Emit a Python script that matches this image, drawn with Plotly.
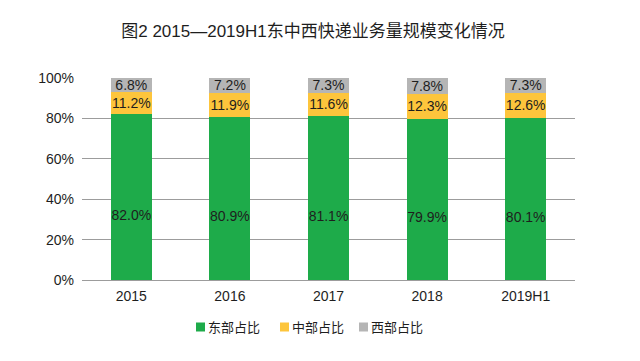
import plotly.graph_objects as go

categories = ["2015", "2016", "2017", "2018", "2019H1"]
east = [82.0, 80.9, 81.1, 79.9, 80.1]
central = [11.2, 11.9, 11.6, 12.3, 12.6]
west = [6.8, 7.2, 7.3, 7.8, 7.3]
series_names = ["东部占比", "中部占比", "西部占比"]
tick_vals = [0, 20, 40, 60, 80, 100]
tick_text = ["0%", "20%", "40%", "60%", "80%", "100%"]

colors = ["#1eab4a", "#fdc53c", "#b5b5b5"]
font_family = "Liberation Sans, Noto Sans CJK SC, sans-serif"
text_color = "#1e1e1e"

# figure geometry (page has an 8px body margin)
W, H = 624, 345
L, T, R, B = 74, 70, 57, 73
PW, PH = W - L - R, H - T - B


def px_x(px):
    return (px - L) / PW


def px_y(py):
    return (T + PH - py) / PH


fig = go.Figure()
for i, (name, vals, c) in enumerate(zip(series_names, [east, central, west], colors)):
    labels = [f"{v:.1f}%" for v in vals]
    if i == 0:
        labels = ["\u00a0<br>\u00a0<br>" + s for s in labels]
    fig.add_trace(go.Bar(
        x=categories, y=vals, name=name, marker_color=c,
        marker_line_width=0, showlegend=False,
        text=labels, textposition="inside",
        insidetextanchor="middle", textangle=0, constraintext="none",
        textfont=dict(color=text_color, size=14, family=font_family),
        hovertemplate="%{x}<br>" + name + ": %{y:.1f}%<extra></extra>",
    ))

# legend drawn as squares + labels
legend_px = [188, 272, 351]
legend_py = 319
shapes, annotations = [], []
for name, c, lx in zip(series_names, colors, legend_px):
    shapes.append(dict(type="rect", xref="paper", yref="paper",
                       x0=px_x(lx), x1=px_x(lx + 9), y0=px_y(legend_py + 4.5), y1=px_y(legend_py - 4.5),
                       fillcolor=c, line=dict(width=0)))
    annotations.append(dict(xref="paper", yref="paper", x=px_x(lx + 10), y=px_y(legend_py),
                            xanchor="left", yanchor="middle", showarrow=False, text=name,
                            font=dict(size=13, color=text_color, family=font_family)))

fig.update_layout(
    barmode="stack", bargap=0.585,
    width=W, height=H,
    margin=dict(l=L, r=R, t=T, b=B, autoexpand=False),
    paper_bgcolor="white", plot_bgcolor="white",
    font=dict(family=font_family, color=text_color),
    title=dict(text="图2 2015—2019H1东中西快递业务量规模变化情况", x=305 / W, xanchor="center",
               y=1 - 23 / H, yanchor="middle", font=dict(size=17, color=text_color)),
    shapes=shapes, annotations=annotations,
    xaxis=dict(showgrid=False, showline=False, ticks="", automargin=False, ticklabelstandoff=6,
               tickfont=dict(size=14, color=text_color)),
    yaxis=dict(range=[0, 100], tickvals=tick_vals, ticktext=tick_text, showgrid=True,
               automargin=False, ticklabelstandoff=7,
               gridcolor="#9c9c9c", gridwidth=1.3, zeroline=True, zerolinecolor="#9c9c9c",
               zerolinewidth=1.3, tickfont=dict(size=14, color=text_color), ticks=""),
)

fig.write_html("out.html")
